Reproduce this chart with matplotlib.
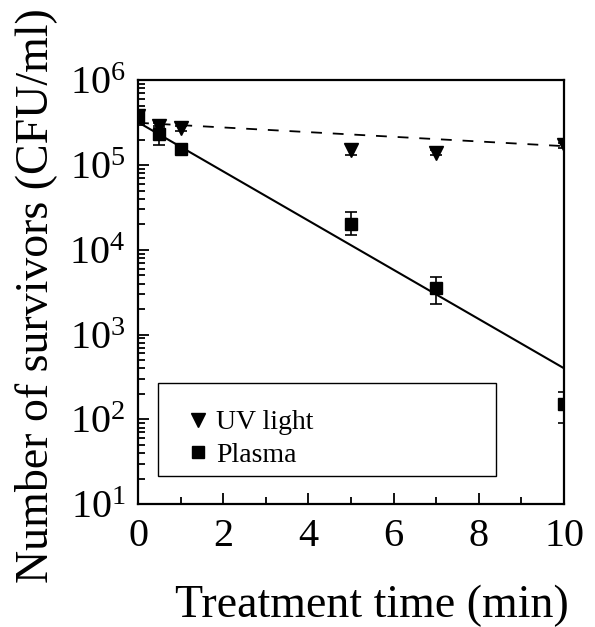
import numpy as np
import matplotlib
matplotlib.use("Agg")
import matplotlib.pyplot as plt
from matplotlib.patches import Rectangle
from matplotlib.ticker import LogLocator, LogFormatterMathtext, MultipleLocator

# survival data
time_min = [0, 0.5, 1, 5, 7, 10]

uv_cfu = [3.8e5, 2.9e5, 2.7e5, 1.5e5, 1.4e5, 1.7e5]
uv_err = [0.2e5, 0.2e5, 0.2e5, 0.2e5, 0.1e5, 0.1e5]

plasma_cfu = [3.8e5, 2.3e5, 1.55e5, 2.0e4, 3.5e3, 1.5e2]
plasma_err_low = [0.2e5, 0.6e5, 0.1e5, 0.5e4, 1.2e3, 0.6e2]
plasma_err_high = [0.2e5, 0.6e5, 0.1e5, 0.8e4, 1.3e3, 0.6e2]

# fitted lines (end points)
uv_fit_t = [0, 10]
uv_fit_cfu = [3.15e5, 1.67e5]
plasma_fit_t = [0, 10]
plasma_fit_cfu = [3.2e5, 4.0e2]

plt.rcParams['font.family'] = ['Liberation Serif']
plt.rcParams['mathtext.fontset'] = 'custom'
plt.rcParams['mathtext.rm'] = 'Liberation Serif'
plt.rcParams['mathtext.it'] = 'Liberation Serif:italic'
plt.rcParams['mathtext.bf'] = 'Liberation Serif:bold'

fig = plt.figure(figsize=(5.95, 6.27), dpi=100)
ax = fig.add_axes([0.232, 0.196, 0.716, 0.676])

ax.plot(uv_fit_t, uv_fit_cfu, color='k', lw=1.3, dashes=(6, 6))
ax.plot(plasma_fit_t, plasma_fit_cfu, color='k', lw=1.5)

ax.errorbar(time_min, uv_cfu, yerr=uv_err, fmt='v', color='k', ms=10,
            capsize=4, elinewidth=1.2, capthick=1.2, label='UV light')
ax.errorbar(time_min, plasma_cfu, yerr=[plasma_err_low, plasma_err_high],
            fmt='s', color='k', ms=8, capsize=4, elinewidth=1.2,
            capthick=1.2, label='Plasma')

ax.set_yscale('log')
ax.set_xlim(0, 10)
ax.set_ylim(1e1, 1e6)
ax.xaxis.set_major_locator(MultipleLocator(2))
ax.xaxis.set_minor_locator(MultipleLocator(1))
ax.yaxis.set_major_locator(LogLocator(base=10))
ax.yaxis.set_minor_locator(LogLocator(base=10, subs=np.arange(2, 10)))
ax.yaxis.set_major_formatter(LogFormatterMathtext())

ax.tick_params(which='both', direction='in', top=False, right=False,
               width=1.3, labelsize=29)
ax.tick_params(which='major', length=8)
ax.tick_params(which='minor', length=5)
ax.tick_params(axis='x', pad=10)
ax.tick_params(axis='y', pad=9)
for sp in ax.spines.values():
    sp.set_linewidth(1.6)

ax.set_xlabel('Treatment time (min)', fontsize=33)
ax.xaxis.set_label_coords(0.549, -0.19)
ax.set_ylabel('Number of survivors (CFU/ml)', fontsize=33)
ax.yaxis.set_label_coords(-0.19, 0.493)

# legend box drawn separately so the entries sit high inside it
ax.add_patch(Rectangle((0.047, 0.066), 0.793, 0.219, transform=ax.transAxes,
                       fill=False, edgecolor='k', lw=1.0, zorder=4))
handles, labels = ax.get_legend_handles_labels()
handles = [h[0] for h in handles]
leg = ax.legend(handles, labels, loc='upper left',
                bbox_to_anchor=(0.108, 0.222), fontsize=20, frameon=False,
                borderpad=0, handletextpad=0.15, handlelength=1.0,
                labelspacing=0.25, borderaxespad=0)

fig.savefig('out.png', dpi=100)
